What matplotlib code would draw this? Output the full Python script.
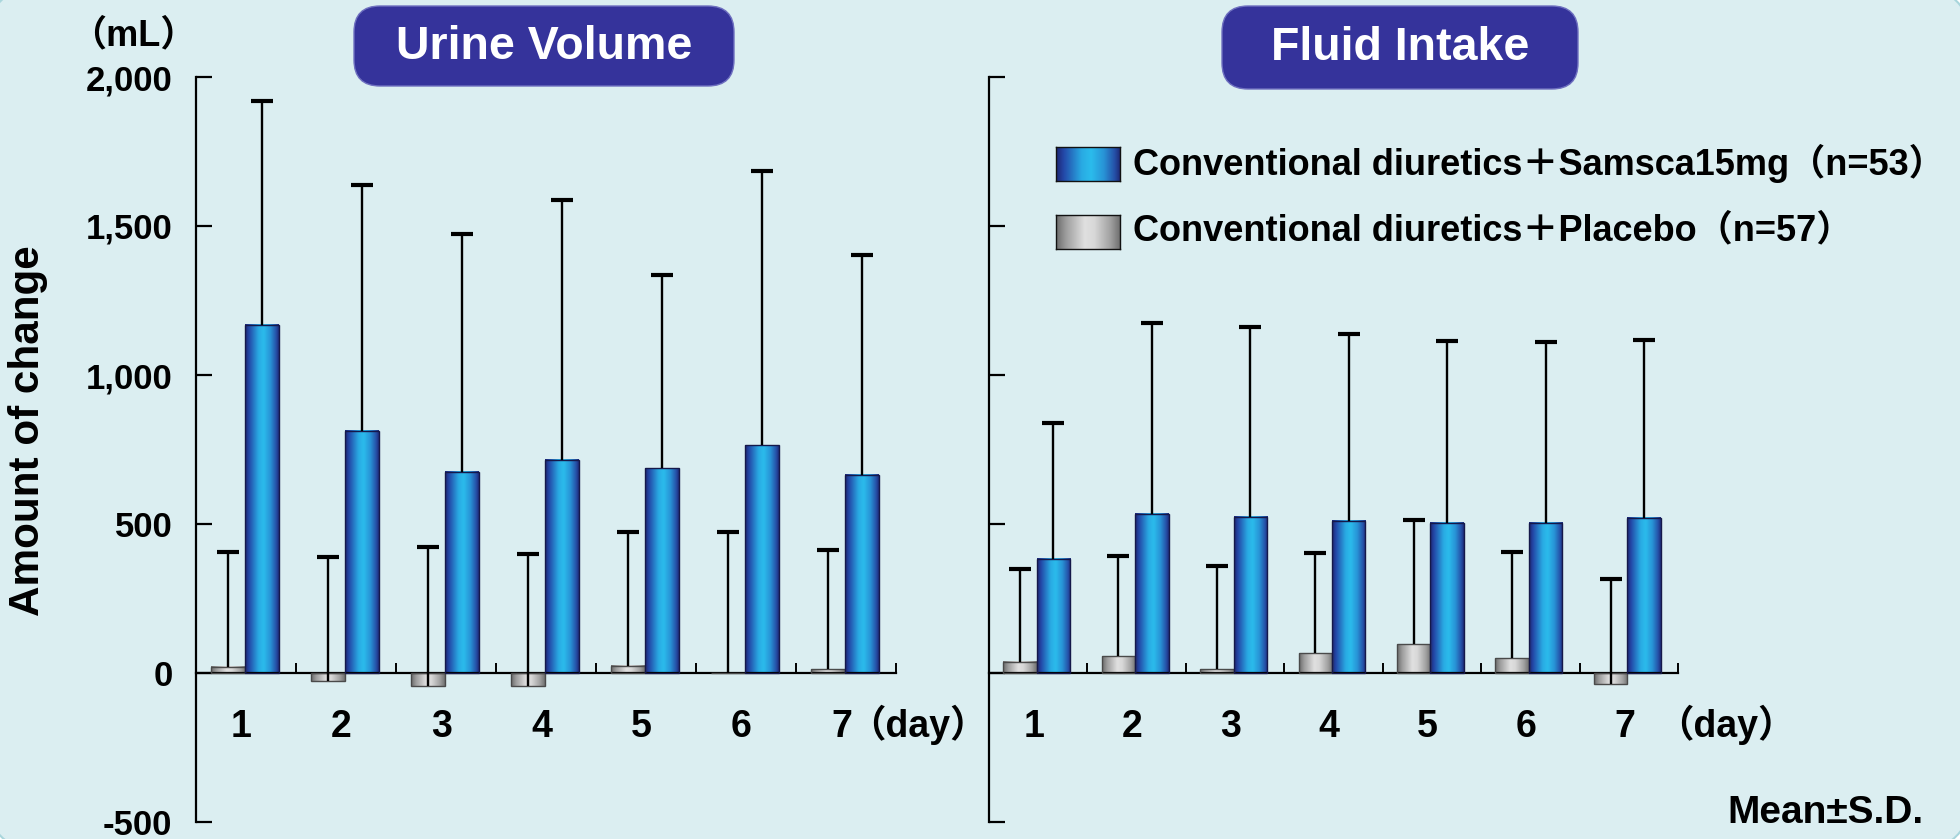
import numpy as np
import matplotlib
matplotlib.use('Agg')
import matplotlib.pyplot as plt
from matplotlib.colors import LinearSegmentedColormap
from matplotlib.patches import FancyBboxPatch, Rectangle
from matplotlib.transforms import IdentityTransform

# ---------------- data ----------------
days = ['1', '2', '3', '4', '5', '6', '7']
uv_samsca = [1168, 813, 675, 716, 687, 765, 665]
uv_samsca_sd = [753, 824, 797, 872, 647, 920, 738]
uv_placebo = [21, -26, -43, -43, 25, 0, 12]
uv_placebo_sd = [385, 414, 465, 441, 447, 472, 402]
fi_samsca = [383, 535, 525, 511, 504, 504, 521]
fi_samsca_sd = [456, 640, 636, 625, 611, 608, 595]
fi_placebo = [37, 56, 12, 66, 96, 49, -38]
fi_placebo_sd = [311, 336, 348, 338, 419, 357, 354]
yticks = [-500, 0, 500, 1000, 1500, 2000]
yticklabels = ['-500', '0', '500', '1,000', '1,500', '2,000']
panel_titles = ['Urine Volume', 'Fluid Intake']
legend_labels = ['Conventional diuretics＋Samsca15mg（n=53）',
                 'Conventional diuretics＋Placebo（n=57）']

FONT = ['Liberation Sans', 'Noto Sans CJK JP', 'DejaVu Sans']
plt.rcParams['font.family'] = FONT
plt.rcParams['font.weight'] = 'bold'

W, H = 1960, 839
fig = plt.figure(figsize=(W / 100, H / 100), dpi=100)
fig.patch.set_facecolor('white')
ID = IdentityTransform()

def py(y_top):
    return H - y_top

# background rounded panel
bg = FancyBboxPatch((-18, py(855)), W + 33, 873,
                    boxstyle='round,pad=0,rounding_size=75',
                    facecolor='#dbeef1', edgecolor='#a9d6dc', lw=1.5,
                    transform=ID, zorder=-10)
fig.patches.append(bg)

blue_cmap = LinearSegmentedColormap.from_list('blue', [
    (0.0, '#1d2470'), (0.12, '#2348a8'), (0.40, '#29aae3'), (0.55, '#2bbcec'),
    (0.75, '#2893d6'), (0.92, '#2550a8'), (1.0, '#1e2a78')])
grey_cmap = LinearSegmentedColormap.from_list('grey', [
    (0.0, '#6a6a6a'), (0.15, '#9c9c9c'), (0.45, '#e0e0e0'), (0.60, '#d8d8d8'),
    (0.85, '#a2a2a2'), (1.0, '#707070')])
grad = np.linspace(0, 1, 256)[np.newaxis, :]

ymin, ymax = -500, 2000
ax_bottom = (H - 822) / H
ax_height = (822 - 77) / H
axes_pos = [(196, 896), (989, 1678)]


def draw_panel(ax, placebo, placebo_sd, samsca, samsca_sd, show_labels):
    x = np.arange(len(days))
    off = 0.145
    bw = 0.34
    xg = x + off
    xb = x + off + bw
    for xs, vals, cmap, ec in [(xg, placebo, grey_cmap, '#4a4a4a'),
                               (xb, samsca, blue_cmap, '#15184a')]:
        bars = ax.bar(xs, vals, width=bw, align='edge', facecolor='none',
                      edgecolor=ec, linewidth=1.0, zorder=3)
        for b in bars:
            x0, y0 = b.get_x(), b.get_y()
            w, h = b.get_width(), b.get_height()
            if h == 0:
                continue
            ax.imshow(grad, extent=(x0, x0 + w, min(y0, y0 + h), max(y0, y0 + h)),
                      aspect='auto', cmap=cmap, interpolation='bicubic', zorder=2)
    # error bars (upper only)
    for xs, vals, sds in [(xg + bw / 2, placebo, placebo_sd),
                          (xb + bw / 2, samsca, samsca_sd)]:
        vals = np.array(vals); sds = np.array(sds)
        ax.vlines(xs, vals, vals + sds, colors='black', linewidth=1.7, zorder=4)
        ax.plot(xs, vals + sds, ls='none', marker='_', ms=16, mew=3.0,
                color='black', zorder=4)
    ax.set_xlim(0, len(days))
    ax.set_ylim(ymin, ymax)
    ax.set_facecolor('none')
    for s in ['top', 'right']:
        ax.spines[s].set_visible(False)
    ax.spines['left'].set_linewidth(1.6)
    ax.spines['bottom'].set_position(('data', 0))
    ax.spines['bottom'].set_linewidth(1.6)
    ax.set_yticks(yticks)
    ax.set_yticklabels(yticklabels if show_labels else [''] * len(yticks))
    ax.tick_params(axis='y', direction='in', length=11.5, width=1.6, pad=17,
                   labelsize=25)
    ax.set_xticks(np.arange(1, len(days) + 1))
    ax.set_xticklabels([''] * len(days))
    ax.tick_params(axis='x', direction='in', length=7, width=1.4)
    for lab in ax.get_yticklabels():
        lab.set_fontweight('bold')
    # day labels
    for i, d in enumerate(days):
        ax.text(i + off + bw - 0.03, -215, d, ha='center', va='baseline',
                fontsize=27, fontweight='bold', clip_on=False)


ax1 = fig.add_axes([axes_pos[0][0] / W, ax_bottom, (axes_pos[0][1] - axes_pos[0][0]) / W, ax_height])
ax2 = fig.add_axes([axes_pos[1][0] / W, ax_bottom, (axes_pos[1][1] - axes_pos[1][0]) / W, ax_height])
draw_panel(ax1, uv_placebo, uv_placebo_sd, uv_samsca, uv_samsca_sd, True)
draw_panel(ax2, fi_placebo, fi_placebo_sd, fi_samsca, fi_samsca_sd, False)

ax1.text(6.52, -215, '（day）', ha='left', va='baseline', fontsize=27,
         fontweight='bold', clip_on=False)
ax2.text(6.78, -215, '（day）', ha='left', va='baseline', fontsize=27,
         fontweight='bold', clip_on=False)

# y label and unit
fig.text(28 / W, py(431) / H, 'Amount of change', rotation=90, ha='center',
         va='center', fontsize=30.4, fontweight='bold')
fig.text(133 / W, py(36) / H, '（mL）', ha='center', va='center', fontsize=26,
         fontweight='bold')

# title boxes
for (x0, x1, y0, y1), t in zip([(354, 734, 6, 86), (1222, 1578, 6, 89)], panel_titles):
    box = FancyBboxPatch((x0, py(y1)), x1 - x0, y1 - y0,
                         boxstyle='round,pad=0,rounding_size=26',
                         facecolor='#35339b', edgecolor='#6f70c0', lw=1.0,
                         transform=ID, zorder=5)
    fig.patches.append(box)
    fig.text((x0 + x1) / 2 / W, py((y0 + y1) / 2 + 1) / H, t, ha='center',
             va='center', fontsize=33.5, fontweight='bold', color='white', zorder=6)

# legend
for (sq_y0, sq_y1, base), cmap, lab in zip([(147, 181, 175), (215, 249, 240)],
                                           [blue_cmap, grey_cmap], legend_labels):
    lax = fig.add_axes([1056 / W, py(sq_y1) / H, 64 / W, (sq_y1 - sq_y0) / H])
    lax.imshow(grad, aspect='auto', cmap=cmap, interpolation='bicubic',
               extent=(0, 1, 0, 1))
    lax.set_xticks([]); lax.set_yticks([])
    for s in lax.spines.values():
        s.set_linewidth(1.0)
        s.set_color('#111111')
    fig.text(1133 / W, py(base) / H, lab, ha='left', va='baseline', fontsize=26,
             fontweight='bold')

fig.text(1923 / W, py(823) / H, 'Mean±S.D.', ha='right', va='baseline',
         fontsize=28, fontweight='bold')

fig.savefig('out.png', dpi=100, facecolor='white')
